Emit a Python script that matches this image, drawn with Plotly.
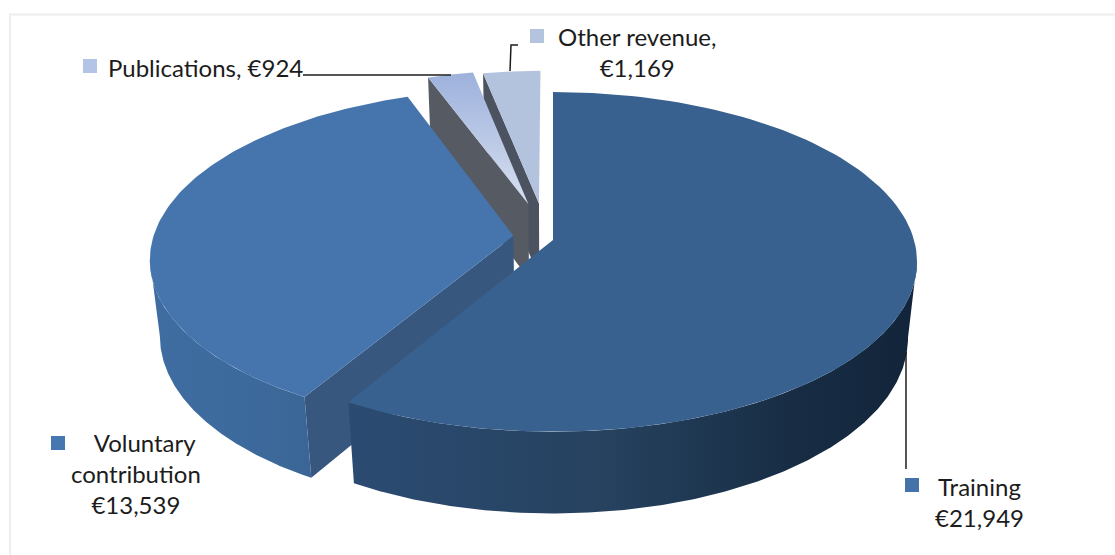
import numpy as np
import plotly.graph_objects as go

labels = ["Training", "Voluntary contribution", "Publications", "Other revenue"]
values = [21949, 13539, 924, 1169]

# Slice offsets (exploded look) in pie units: sideways, towards viewer
pull_x = [0.0, -0.11, -0.07, -0.04]
pull_f = [0.0, -0.025, -0.22, -0.225]
radii = [1.0, 1.0, 0.95, 0.94]

top_colors = ["#38618f", "#4675ae", None, "#b3c2dd"]
wall_colors = [None, "#37577f", "#565a63", "#4c5360"]
rim_scales = [
    [[0, "#2b4b72"], [0.45, "#26425f"], [0.8, "#172c43"], [1, "#12243a"]],
    [[0, "#3f6da1"], [0.6, "#3d6a9d"], [1, "#3a6596"]],
    None,
    None,
]
rim_limits = [97, 262, None, None]
square_colors = ["#4472a9", "#4677b0", "#b4c4e6", "#b4c4df"]

# Pie projection, in page pixels
CX, CY = 553, 240
RX, RY = 361, 167
DEPTH = 78
PERSP = 0.129
SHRINK = 0.025


def project(angle, radius, dx, df, z):
    # angle in degrees clockwise from 12 o'clock
    a = np.radians(angle)
    px = radius * np.sin(a) + dx
    pf = -radius * np.cos(a) + df
    w = 1 - PERSP * pf + SHRINK * z
    return CX + RX * px / w, CY + (RY * pf + DEPTH * z) / w


def poly(fig, xs, ys, color=None, gradient=None):
    xs = np.append(xs, xs[0])
    ys = np.append(ys, ys[0])
    kw = {"fillcolor": color} if gradient is None else {"fillgradient": gradient}
    fig.add_trace(go.Scatter(x=xs, y=ys, mode="lines", fill="toself",
                             line=dict(width=0), hoverinfo="skip",
                             showlegend=False, **kw))


fig = go.Figure()

total = sum(values)
spans = [v / total * 360 for v in values]
starts = np.cumsum([0] + spans[:-1])

# back slices first, training last so it sits in front
for i in [3, 2, 1, 0]:
    a0, a1 = starts[i], starts[i] + spans[i]
    dx, df, r = pull_x[i], pull_f[i], radii[i]
    arc = np.linspace(a0, a1, 120)

    # flat cut wall
    if wall_colors[i]:
        ox0, oy0 = project(a0, r, dx, df, 0)
        ox1, oy1 = project(a0, r, dx, df, 1)
        ax0, ay0 = project(a0, 0, dx, df, 0)
        ax1, ay1 = project(a0, 0, dx, df, 1)
        poly(fig, [ox0, ax0, ax1, ox1], [oy0, ay0, ay1, oy1], wall_colors[i])

    # curved rim, only the part facing the viewer
    if rim_scales[i]:
        if i == 0:
            rim = np.linspace(rim_limits[i], a1, 200)
        else:
            rim = np.linspace(a0, rim_limits[i], 200)
        tx, ty = project(rim, r, dx, df, 0)
        bx, by = project(rim, r, dx, df, 1)
        poly(fig, np.concatenate([tx, bx[::-1]]), np.concatenate([ty, by[::-1]]),
             gradient=dict(type="horizontal", colorscale=rim_scales[i]))

    # top face
    tx, ty = project(arc, r, dx, df, 0)
    ax, ay = project(a0, 0, dx, df, 0)
    xs, ys = np.append(tx, ax), np.append(ty, ay)
    if top_colors[i]:
        poly(fig, xs, ys, top_colors[i])
    else:
        poly(fig, xs, ys, gradient=dict(type="vertical",
                                        colorscale=[[0, "#d8e0f0"], [1, "#9db1dc"]]))

# text labels
notes = [
    (979, 502, f"{labels[0]}<br>€{values[0]:,}"),
    (136, 473.5, f"\u00a0\u00a0\u00a0Voluntary<br>contribution<br>€{values[1]:,}"),
    (205, 67, f"{labels[2]}, €{values[2]:,}"),
    (637, 52, f"{labels[3]},<br>€{values[3]:,}"),
]
annotations = [
    dict(x=x, y=y, text=t, showarrow=False, xanchor="center", yanchor="middle",
         font=dict(family="Lato, Carlito, sans-serif", size=24, color="#1c1c1c"))
    for x, y, t in notes
]

# small legend squares beside the labels
squares = [(912, 485), (58, 443), (90, 66), (537, 36)]
shapes = [
    dict(type="rect", x0=x - 7, x1=x + 7, y0=y - 7, y1=y + 7,
         fillcolor=c, line=dict(width=0), layer="above")
    for (x, y), c in zip(squares, square_colors)
]

# leader lines
leaders = ["M 303 75 L 451 75", "M 510 71 L 511 45 L 518 45", "M 906 352 L 906 469"]
shapes += [dict(type="path", path=p, line=dict(color="#1c1c1c", width=1.5), layer="above")
           for p in leaders]

# outer frame
shapes.append(dict(type="path", path="M 10 555 L 10 14.5 L 1115 14.5",
                   line=dict(color="#eeeeee", width=2)))

fig.update_layout(
    width=1115, height=555,
    margin=dict(l=0, r=0, t=0, b=0),
    paper_bgcolor="white", plot_bgcolor="white",
    xaxis=dict(range=[0, 1115], visible=False, fixedrange=True),
    yaxis=dict(range=[555, 0], visible=False, fixedrange=True),
    annotations=annotations, shapes=shapes,
)

fig.write_html("out.html", config={"displayModeBar": False},
               post_script="document.body.style.margin='0';")
